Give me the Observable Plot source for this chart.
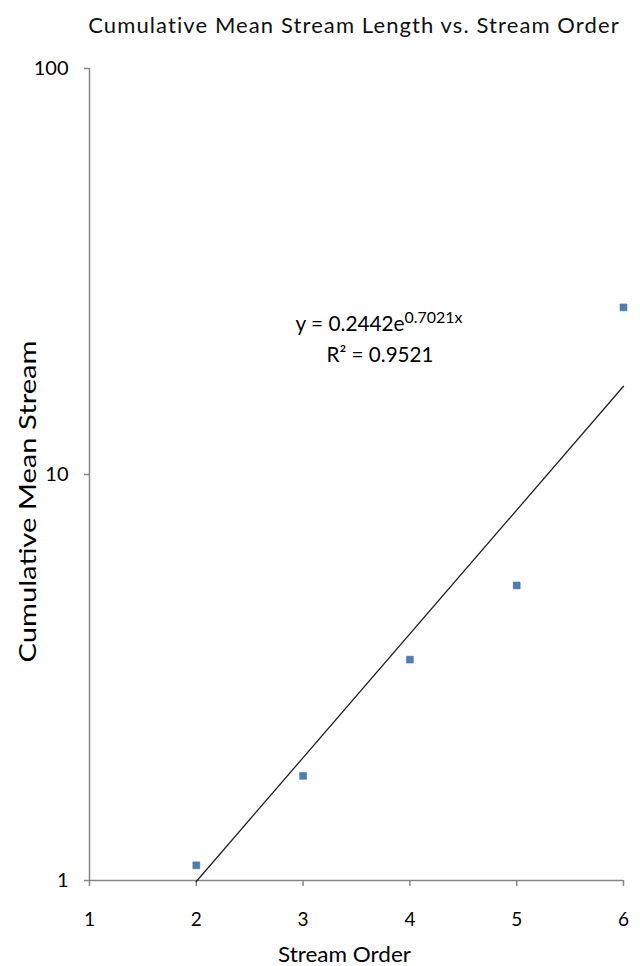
<!DOCTYPE html>
<html><head><meta charset="utf-8">
<script src="https://cdn.jsdelivr.net/npm/d3@7"></script>
<script src="https://cdn.jsdelivr.net/npm/@observablehq/plot@0.6"></script>
<style>
body{margin:0;background:#fff;width:640px;height:966px;overflow:hidden}
#title{height:48px;position:relative;font-family:Lato,"Open Sans",sans-serif;font-size:22px;letter-spacing:1.1px;color:#111}
#title span{position:absolute;left:354px;top:11px;transform:translateX(-50%);white-space:nowrap}
</style>
</head><body>
<div id="title"><span>Cumulative Mean Stream Length vs. Stream Order</span></div>
<div id="chart"></div>
<script>
const streamOrder = [2, 3, 4, 5, 6];
const meanLength = [1.09, 1.81, 3.5, 5.33, 25.8];
const xTicks = [1, 2, 3, 4, 5, 6];
const yTicks = [1, 10, 100];
const trendA = 0.2442, trendB = 0.7021;
const trendRange = [2, 6];
const equationText = "y = 0.2442e";
const exponentText = "0.7021x";
const r2Text = "R\u00B2 = 0.9521";
const xLabel = "Stream Order";
const yLabel = "Cumulative Mean Stream";
const annoEqX = 3.95, annoR2X = 3.72, annoEqY = 22.6, annoR2Y = 18.9;

const points = streamOrder.map((x, i) => ({x, y: meanLength[i]}));
const trend = trendRange.map(x => ({x, y: trendA * Math.exp(trendB * x)}));

const gray = "#868686";
const font = "Lato, 'Open Sans', sans-serif";

const chart = Plot.plot({
  width: 640, height: 918,
  marginLeft: 89, marginRight: 17, marginTop: 20, marginBottom: 86,
  style: {fontFamily: font, fontSize: "16px", color: "#000", background: "#fff"},
  x: {domain: [1, 6], axis: null},
  y: {type: "log", domain: [1, 100], axis: null},
  marks: [
    Plot.ruleX([1], {y1: 1, y2: 100, stroke: gray, strokeWidth: 1.5}),
    Plot.ruleY([1], {x1: 1, x2: 6, stroke: gray, strokeWidth: 1.5}),
    Plot.axisX({ticks: xTicks, tickSize: 6, tickPadding: 26, stroke: gray, strokeWidth: 1.5, fill: "#000", fontSize: 19, label: null, tickFormat: d => String(d)}),
    Plot.axisY({ticks: yTicks, tickSize: 5, tickPadding: 16, stroke: gray, strokeWidth: 1.5, fill: "#000", fontSize: 20, label: null, tickFormat: d => String(d)}),
    Plot.line(trend, {x: "x", y: "y", stroke: "#222", strokeWidth: 1.3}),
    Plot.dot(points, {x: "x", y: "y", symbol: "square", r: 3.9, fill: "#4a7ebb", stroke: "#3a6eab", strokeWidth: 0.5}),
    Plot.text([equationText], {x: annoEqX, y: annoEqY, text: d => d, textAnchor: "end", lineAnchor: "bottom", fontSize: 21, fill: "#000"}),
    Plot.text([exponentText], {x: annoEqX, y: annoEqY, text: d => d, textAnchor: "start", lineAnchor: "bottom", dy: -8, fontSize: 15, fill: "#000"}),
    Plot.text([r2Text], {x: annoR2X, y: annoR2Y, text: d => d, textAnchor: "middle", lineAnchor: "bottom", fontSize: 21, fill: "#000"}),
    Plot.text([xLabel], {frameAnchor: "bottom", textAnchor: "middle", lineAnchor: "bottom", dx: -12, dy: 81, text: d => d, fontSize: 22, fill: "#000"}),
    Plot.text([yLabel], {frameAnchor: "left", textAnchor: "middle", dx: -61, dy: 27, rotate: -90, text: d => d, fontSize: 23, fill: "#000"})
  ]
});
// stretch the text runs to the reference's text lengths
const targetLengths = {[xLabel]: 133, [yLabel]: 322, [equationText]: 109, [exponentText]: 58, [r2Text]: 107};
d3.select(chart).selectAll("text").each(function() {
  const t = this.textContent;
  if (targetLengths[t]) d3.select(this).attr("textLength", targetLengths[t]).attr("lengthAdjust", "spacingAndGlyphs");
});
document.getElementById("chart").appendChild(chart);
</script>
</body></html>
